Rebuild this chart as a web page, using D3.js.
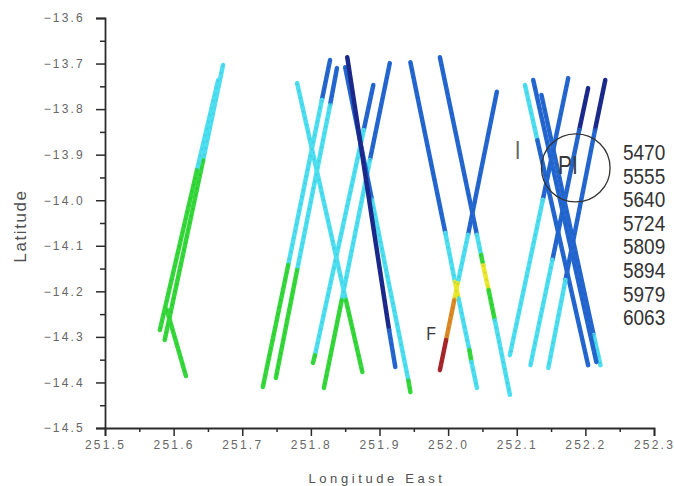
<!DOCTYPE html>
<html><head><meta charset="utf-8">
<script src="https://cdn.jsdelivr.net/npm/d3@7"></script>
<style>
html,body{margin:0;padding:0;background:#fff;}
svg{display:block;}
</style></head>
<body>
<script>
// ---- data ----
const xTicks = [251.5, 251.6, 251.7, 251.8, 251.9, 252.0, 252.1, 252.2, 252.3];
const yTicks = [-13.6, -13.7, -13.8, -13.9, -14.0, -14.1, -14.2, -14.3, -14.4, -14.5];
const legendLabels = ["5470", "5555", "5640", "5724", "5809", "5894", "5979", "6063"];
const levels = ["navy", "blue", "cyan", "green", "yellow", "orange", "red"];

// each track: [lon, lat, level of segment that starts at this vertex]
const trackG1a = [[251.672,-13.703,"cyan"],[251.643,-13.912,"green"],[251.587,-14.307,"green"]];
const trackG1c = [[251.665,-13.736,"cyan"],[251.634,-13.934,"green"],[251.580,-14.285,"green"]];
const trackG1b = [[251.590,-14.240,"green"],[251.618,-14.386,"green"]];
const trackA = [[251.780,-13.743,"cyan"],[251.851,-14.219,"green"],[251.875,-14.377,"green"]];
const trackB = [[251.828,-13.692,"blue"],[251.816,-13.780,"cyan"],[251.767,-14.142,"green"],[251.730,-14.410,"green"]];
const trackC = [[251.838,-13.710,"blue"],[251.828,-13.791,"cyan"],[251.780,-14.153,"green"],[251.749,-14.390,"green"]];
const trackF = [[251.915,-13.699,"blue"],[251.886,-13.912,"cyan"],[251.845,-14.219,"green"],[251.819,-14.412,"green"]];
const trackG = [[251.891,-13.747,"blue"],[251.877,-13.846,"cyan"],[251.806,-14.340,"green"],[251.803,-14.357,"green"]];
const trackE = [[251.850,-13.708,"blue"],[251.889,-13.999,"cyan"],[251.942,-14.395,"green"],[251.945,-14.421,"green"]];
const trackD = [[251.853,-13.686,"navy"],[251.914,-14.285,"blue"],[251.923,-14.366,"blue"]];
const trackT1 = [[251.988,-13.686,"blue"],[252.042,-14.076,"cyan"],[252.048,-14.120,"green"],[252.051,-14.142,"yellow"],[252.059,-14.197,"green"],[252.068,-14.263,"cyan"],[252.090,-14.427,"cyan"]];
const trackT2 = [[251.945,-13.697,"blue"],[251.996,-14.072,"cyan"],[252.010,-14.179,"yellow"],[252.015,-14.215,"cyan"],[252.031,-14.329,"green"],[252.034,-14.355,"cyan"],[252.042,-14.412,"cyan"]];
const trackT3 = [[252.071,-13.762,"blue"],[252.029,-14.076,"cyan"],[252.014,-14.182,"yellow"],[252.009,-14.219,"orange"],[251.997,-14.307,"red"],[251.988,-14.373,"red"]];
const trackU1 = [[252.175,-13.732,"blue"],[252.138,-13.999,"cyan"],[252.090,-14.340,"cyan"]];
const trackD1 = [[252.112,-13.747,"cyan"],[252.130,-13.868,"blue"],[252.204,-14.362,"blue"]];
const trackD2 = [[252.124,-13.736,"blue"],[252.216,-14.355,"blue"]];
const trackD3 = [[252.136,-13.769,"blue"],[252.212,-14.296,"cyan"],[252.222,-14.362,"cyan"]];
const trackU2 = [[252.204,-13.754,"navy"],[252.191,-13.846,"blue"],[252.152,-14.131,"cyan"],[252.120,-14.362,"cyan"]];
const trackU3 = [[252.229,-13.736,"navy"],[252.214,-13.846,"blue"],[252.171,-14.175,"cyan"],[252.146,-14.368,"cyan"]];

const tracks = [trackG1a, trackG1c, trackG1b, trackA, trackB, trackC, trackF, trackG, trackE, trackD,
  trackT2, trackT1, trackT3, trackU1, trackD1, trackD3, trackD2, trackU2, trackU3];

// annotations
const notes = [
  {text: "I", lon: 252.097, lat: -13.910, size: 21},
  {text: "PI", lon: 252.160, lat: -13.942, size: 21},
  {text: "F", lon: 251.968, lat: -14.307, size: 16}
];
const circleNote = {lon: 252.186, lat: -13.929, r: 0.05};

// ---- drawing ----
const W = 674, H = 486;
const svg = d3.select("body").append("svg").attr("width", W).attr("height", H);

const x = d3.scaleLinear().domain([251.5, 252.3]).range([105, 654]);
const y = d3.scaleLinear().domain([-14.5, -13.6]).range([428, 18]);
const color = d3.scaleOrdinal().domain(levels)
  .range(["#1b2a8c", "#2467d0", "#4cdff1", "#35d83a", "#e9e82a", "#dc8a25", "#a8262a"]);

const font = "'Liberation Sans', Arial, sans-serif";

// tracks
const gT = svg.append("g");
tracks.forEach(tr => {
  const segs = d3.pairs(tr);
  gT.append("g").selectAll("line").data(segs).join("line")
    .attr("x1", d => x(d[0][0])).attr("y1", d => y(d[0][1]))
    .attr("x2", d => x(d[1][0])).attr("y2", d => y(d[1][1]))
    .attr("stroke", d => color(d[0][2]))
    .attr("stroke-width", 4.5)
    .attr("stroke-linecap", "round");
  gT.append("g").selectAll("line").data(segs).join("line")
    .attr("x1", d => x(d[0][0])).attr("y1", d => y(d[0][1]))
    .attr("x2", d => x(d[1][0])).attr("y2", d => y(d[1][1]))
    .attr("stroke", d => d3.color(color(d[0][2])).darker(0.5))
    .attr("stroke-width", 1.8)
    .attr("stroke-dasharray", "2 5")
    .attr("opacity", 0.5);
});

// axes
const axisColor = "#2b2b2b";
const labelColor = "#666";
const minorX = d3.range(0, 8).map(i => 251.55 + i * 0.1);
const minorY = d3.range(0, 9).map(i => -13.65 - i * 0.1);

svg.append("g").attr("transform", `translate(0,428)`)
  .call(d3.axisBottom(x).tickValues(xTicks).tickSize(8).tickPadding(4).tickFormat(d3.format(".1f")));
svg.append("g").attr("transform", `translate(0,428)`)
  .call(d3.axisBottom(x).tickValues(minorX).tickSize(4).tickFormat(""))
  .call(g => g.select(".domain").remove());
svg.append("g").attr("transform", `translate(105,0)`)
  .call(d3.axisLeft(y).tickValues(yTicks).tickSize(9).tickPadding(11).tickFormat(d3.format(".1f")));
svg.append("g").attr("transform", `translate(105,0)`)
  .call(d3.axisLeft(y).tickValues(minorY).tickSize(5).tickFormat(""))
  .call(g => g.select(".domain").remove());

svg.selectAll(".domain").attr("stroke", axisColor).attr("stroke-width", 1.8);
svg.selectAll(".tick line").attr("stroke", axisColor).attr("stroke-width", 1.5);
svg.selectAll(".tick text").attr("fill", labelColor).style("font-family", font)
  .style("font-size", "12px").style("letter-spacing", "2.2px");

// axis titles
svg.append("text").attr("x", 377).attr("y", 483).attr("text-anchor", "middle")
  .style("font-family", font).style("font-size", "13px").style("letter-spacing", "3.6px")
  .attr("fill", "#505050").text("Longitude East");
svg.append("text").attr("transform", "translate(26,226) rotate(-90)").attr("text-anchor", "middle")
  .style("font-family", font).style("font-size", "17px").style("letter-spacing", "1.6px")
  .attr("fill", "#505050").text("Latitude");

// legend labels (tall, narrow lettering)
svg.append("g").selectAll("text").data(legendLabels).join("text")
  .attr("transform", (d, i) => `translate(623,${160 + i * 23.6}) scale(1,1.2)`)
  .style("font-family", font).style("font-size", "19px")
  .attr("fill", "#333").text(d => d);

// circle annotation
svg.append("ellipse").attr("cx", x(circleNote.lon)).attr("cy", y(circleNote.lat))
  .attr("rx", x(circleNote.lon + circleNote.r) - x(circleNote.lon))
  .attr("ry", 34)
  .attr("fill", "none").attr("stroke", "#333").attr("stroke-width", 1.3);

svg.append("g").selectAll("text").data(notes).join("text")
  .attr("transform", d => `translate(${x(d.lon)},${y(d.lat)}) scale(1,1.2)`)
  .style("font-family", font)
  .style("font-size", d => d.size + "px")
  .attr("fill", d => d.text === "I" ? "#666" : "#3a3a3a")
  .text(d => d.text);
</script>
</body></html>
